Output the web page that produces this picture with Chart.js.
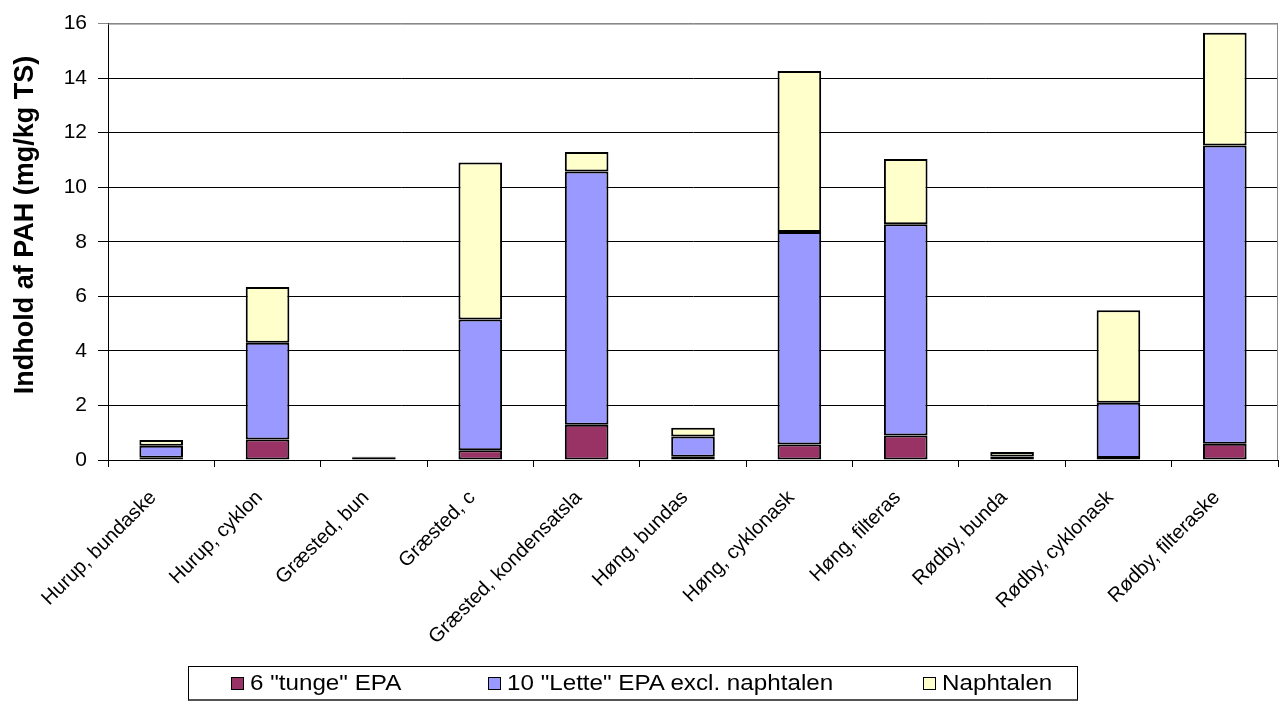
<!DOCTYPE html>
<html>
<head>
<meta charset="utf-8">
<script src="https://cdn.jsdelivr.net/npm/chart.js@4.4.1/dist/chart.umd.min.js"></script>
<style>
  html, body { margin: 0; padding: 0; background: #fff; }
  #wrap { position: relative; width: 1281px; height: 704px; }
  #legend {
    position: absolute; left: 188px; top: 666px; width: 890px; height: 35px;
    border: 1px solid #000; border-bottom: 2px solid #555; box-sizing: border-box;
    font-family: 'Liberation Sans', Arial, sans-serif; font-size: 22px; color: #000;
  }
  .item { position: absolute; top: 0; height: 100%; display: flex; align-items: center; white-space: nowrap; }
  .swatch { width: 13px; height: 13px; border: 1px solid #000; box-sizing: border-box; margin-right: 6px; }
  .txt { display: inline-block; transform: scaleX(1.1); transform-origin: left center; }
</style>
</head>
<body>
<div id="wrap">
  <canvas id="c" width="1281" height="704"></canvas>
  <div id="legend"></div>
</div>
<script>
// Sample sites / ash fractions (labels as printed on the axis)
const categories = [
  'Hurup, bundaske', 'Hurup, cyklon', 'Græsted, bun', 'Græsted, c',
  'Græsted, kondensatsla', 'Høng, bundas', 'Høng, cyklonask', 'Høng, filteras',
  'Rødby, bunda', 'Rødby, cyklonask', 'Rødby, filteraske'
];

// PAH content, mg/kg TS
const heavyEPA    = [0.08, 0.75, 0.07, 0.36, 1.29, 0.12, 0.57, 0.90, 0.02, 0.07, 0.60];
const lightEPA    = [0.44, 3.55, 0.03, 4.79, 9.29, 0.74, 7.79, 7.74, 0.11, 2.03, 10.93];
const naphthalene = [0.21, 2.04, 0.02, 5.76, 0.71, 0.32, 5.90, 2.40, 0.16, 3.39, 4.13];

const seriesNames = ['6 "tunge" EPA', '10 "Lette" EPA excl. naphtalen', 'Naphtalen'];
const seriesColors = ['#993366', '#9999FF', '#FFFFCC'];

const yTicks = [0, 2, 4, 6, 8, 10, 12, 14, 16];
const yTitle = 'Indhold af PAH (mg/kg TS)';

const FONT = "'Liberation Sans', Arial, sans-serif";

// Grey frame along the top and right of the plot area
const plotFrame = {
  id: 'plotFrame',
  beforeDatasetsDraw(chart) {
    const { ctx, chartArea: a } = chart;
    ctx.save();
    ctx.strokeStyle = '#888';
    ctx.lineWidth = 1;
    ctx.beginPath();
    ctx.moveTo(a.left, a.top + 0.5);
    ctx.lineTo(a.right - 0.5, a.top + 0.5);
    ctx.lineTo(a.right - 0.5, a.bottom);
    ctx.stroke();
    ctx.restore();
  }
};

// Vertical value-axis title, placed in the left margin
const axisTitle = {
  id: 'axisTitle',
  afterDraw(chart) {
    const { ctx } = chart;
    ctx.save();
    ctx.translate(26, 225);
    ctx.rotate(-Math.PI / 2);
    ctx.font = 'bold 27px ' + FONT;
    ctx.fillStyle = '#000';
    ctx.textAlign = 'center';
    ctx.textBaseline = 'middle';
    ctx.fillText(yTitle, 0, 0);
    ctx.restore();
  }
};

const seriesData = [heavyEPA, lightEPA, naphthalene];

const chart = new Chart(document.getElementById('c'), {
  type: 'bar',
  data: {
    labels: categories,
    datasets: seriesData.map((d, i) => ({
      label: seriesNames[i],
      data: d,
      backgroundColor: seriesColors[i],
      borderColor: '#000',
      borderWidth: 2,
      borderSkipped: false,
      categoryPercentage: 1,
      barPercentage: 0.41
    }))
  },
  options: {
    responsive: false,
    animation: false,
    devicePixelRatio: 1,
    layout: { padding: { left: 0, right: 3, top: 23, bottom: 44 } },
    plugins: {
      legend: { display: false },
      tooltip: { enabled: false }
    },
    scales: {
      x: {
        stacked: true,
        grid: { offset: true, drawOnChartArea: false, drawTicks: true, tickLength: 7, color: '#000' },
        border: { color: '#000', width: 1 },
        ticks: {
          autoSkip: false, maxRotation: 45, minRotation: 45,
          color: '#000', padding: 19, labelOffset: -8,
          font: { family: FONT, size: 20 }
        },
        afterFit(s) { s.height = 200; }
      },
      y: {
        stacked: true,
        min: 0, max: 16,
        afterBuildTicks(s) { s.ticks = yTicks.map(v => ({ value: v })); },
        grid: {
          color: c => (c.tick && c.tick.value === 16 ? '#888' : '#000'),
          tickLength: 10, drawTicks: true
        },
        border: { color: '#000', width: 1 },
        ticks: { color: '#000', padding: 11, font: { family: FONT, size: 21 } },
        title: { display: false },
        afterFit(s) { s.width = 108; }
      }
    }
  },
  plugins: [plotFrame, axisTitle]
});

// Legend built from the chart's datasets
const legendEl = document.getElementById('legend');
const itemLeft = [42, 299, 734];
chart.data.datasets.forEach((ds, i) => {
  const item = document.createElement('div');
  item.className = 'item';
  item.style.left = itemLeft[i] + 'px';
  const sw = document.createElement('span');
  sw.className = 'swatch';
  sw.style.background = ds.backgroundColor;
  const tx = document.createElement('span');
  tx.className = 'txt';
  tx.textContent = ds.label;
  item.appendChild(sw);
  item.appendChild(tx);
  legendEl.appendChild(item);
});
</script>
</body>
</html>
